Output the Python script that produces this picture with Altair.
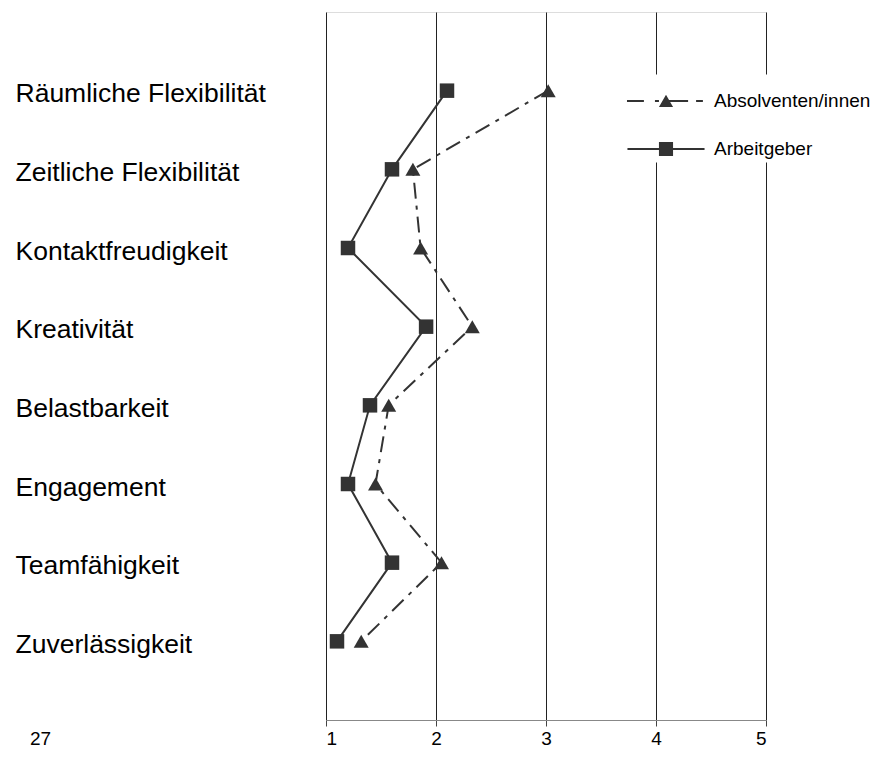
import altair as alt
import pandas as pd

categories = ["Räumliche Flexibilität", "Zeitliche Flexibilität", "Kontaktfreudigkeit",
              "Kreativität", "Belastbarkeit", "Engagement", "Teamfähigkeit", "Zuverlässigkeit"]
absolventen = [3.02, 1.79, 1.86, 2.33, 1.57, 1.45, 2.05, 1.32]
arbeitgeber = [2.10, 1.60, 1.20, 1.91, 1.40, 1.20, 1.60, 1.10]
series_names = ["Absolventen/innen", "Arbeitgeber"]
x_ticks = [1, 2, 3, 4, 5]

rows = []
for i, c in enumerate(categories):
    rows.append({"cat": c, "idx": i, "series": series_names[0], "value": absolventen[i]})
    rows.append({"cat": c, "idx": i, "series": series_names[1], "value": arbeitgeber[i]})
df = pd.DataFrame(rows)
legend_df = pd.DataFrame({"series": series_names})

FONT = "Liberation Sans"
INK = "#333333"

x_enc = alt.X("value:Q", scale=alt.Scale(domain=[1, 5], nice=False, zero=False),
              axis=alt.Axis(values=x_ticks, title=None, grid=True, gridColor="#222222",
                            gridWidth=1, domainColor="#888888", domainWidth=1,
                            tickColor="#444444", tickSize=6, labelFontSize=19,
                            labelFont=FONT, labelColor="#000000", labelPadding=3,
                            format="d"))
y_enc = alt.Y("cat:N", sort=categories, scale=alt.Scale(type="point", padding=1),
              axis=alt.Axis(title=None, domain=False, ticks=False, tickSize=0, grid=False,
                            labelAlign="left", labelPadding=311, labelFontSize=26.5,
                            labelFont=FONT, labelColor="#000000", labelBaseline="alphabetic",
                            labelOffset=11, labelLimit=400))

base = alt.Chart(df)
abs_data = base.transform_filter(alt.datum.series == series_names[0])
arb_data = base.transform_filter(alt.datum.series == series_names[1])

line_abs = abs_data.mark_line(color=INK, strokeWidth=2, strokeDash=[16, 7, 4, 7]).encode(
    x=x_enc, y=y_enc, order="idx:O")
line_arb = arb_data.mark_line(color=INK, strokeWidth=2).encode(
    x=x_enc, y=y_enc, order="idx:O")

tri = abs_data.mark_point(
    shape="triangle-up", filled=True, color=INK, size=225, opacity=1, strokeWidth=0
).encode(x=x_enc, y=y_enc)

sq = arb_data.mark_point(
    shape="square", filled=True, color=INK, size=210, opacity=1, strokeWidth=0
).encode(x=x_enc, y=y_enc)

# legend symbols: line segments drawn as thin rectangles plus the marker
h = 0.043
path_abs = (
    f"M-1.66,-{h}H-0.94V{h}H-1.66Z"
    f"M-0.47,-{h}H-0.30V{h}H-0.47Z"
    f"M-0.10,-{h}H0.94V{h}H-0.10Z"
    f"M1.28,-{h}H1.57V{h}H1.28Z"
    "M0,-0.27L0.30,0.25L-0.30,0.25Z"
)
path_arb = (
    f"M-1.64,-{h}H1.64V{h}H-1.64Z"
    "M-0.30,-0.30H0.30V0.30H-0.30Z"
)

legend_layer = alt.Chart(legend_df).mark_point(filled=True, color=INK, opacity=1, clip=True).encode(
    x=alt.value(-1000), y=alt.value(-1000),
    shape=alt.Shape("series:N",
                    scale=alt.Scale(domain=series_names, range=[path_abs, path_arb]),
                    legend=alt.Legend(title=None, orient="none", legendX=313.5, legendY=62.5,
                                      symbolSize=2209, symbolStrokeWidth=0,
                                      symbolFillColor=INK, symbolOpacity=1,
                                      labelFont=FONT, labelFontSize=19, labelColor="#000000",
                                      labelOffset=24.5, rowPadding=14, padding=3,
                                      fillColor="#ffffff", labelLimit=400))
)

chart = alt.layer(line_abs, line_arb, tri, sq, legend_layer).properties(
    width=440, height=708,
    padding={"left": 318, "top": 4, "right": 107, "bottom": 29},
    autosize=alt.AutoSizeParams(type="none"),
    title=alt.Title("27", orient="bottom", anchor="start", frame="group", fontSize=19,
                    font=FONT, fontWeight="normal", color="#000000", dx=-296, dy=-22,
                    baseline="top"),
).configure_view(stroke=None).configure(background="#ffffff")

chart.save("out.html", embed_options={"renderer": "svg", "actions": False})
